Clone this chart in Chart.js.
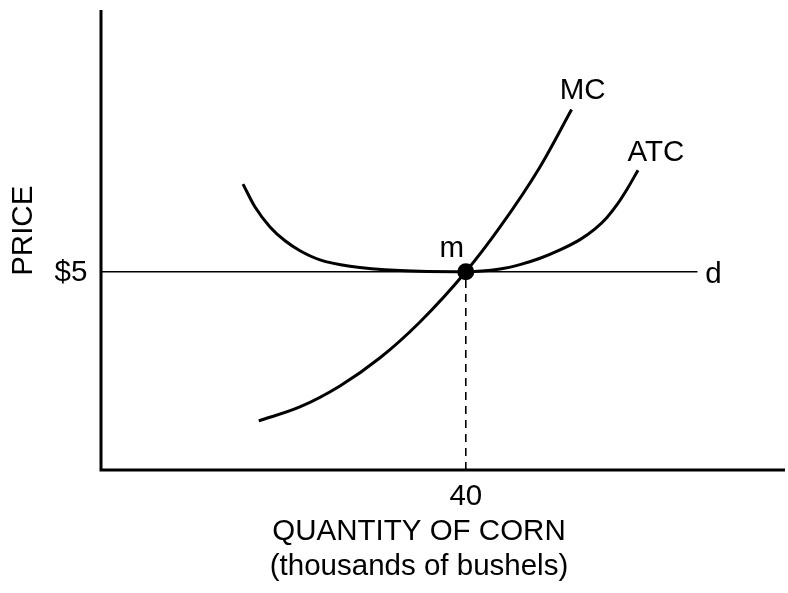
<!DOCTYPE html>
<html>
<head>
<meta charset="utf-8">
<script src="https://cdn.jsdelivr.net/npm/chart.js@4"></script>
<style>
  html, body { margin: 0; padding: 0; background: #fff; }
  #wrap { width: 788px; height: 593px; }
</style>
</head>
<body>
<div id="wrap"><canvas id="c" width="788" height="593"></canvas></div>
<script>
// ---- Data (quantity in thousands of bushels, price in $) ----
const mcQuantity  = [17.3, 21.8, 26.2, 30.6, 35.0, 40.0, 43.7, 48.1, 51.6];
const mcPrice     = [1.24, 1.59, 2.12, 2.83, 3.74, 5.00, 6.11, 7.63, 9.09];
const atcQuantity = [15.57, 16.89, 18.53, 20.18, 21.82, 24.01, 27.30, 32.79, 40.0,
                     43.75, 45.94, 48.14, 50.33, 52.52, 54.17, 55.48, 56.58, 57.68, 58.88];
const atcPrice    = [7.21, 6.63, 6.13, 5.78, 5.53, 5.30, 5.14, 5.03, 5.00,
                     5.07, 5.18, 5.34, 5.55, 5.81, 6.08, 6.37, 6.69, 7.08, 7.56];
const demandQuantity = [0, 65.4];
const marketPrice = 5;
const equilibriumQuantity = 40;
const xTickLabel = "40";
const yTickLabel = "$5";
const xAxisTitle = "QUANTITY OF CORN";
const xAxisSubtitle = "(thousands of bushels)";
const yAxisTitle = "PRICE";
const curveLabels = ["MC", "ATC", "d", "m"];

const toPts = (xs, ys) => xs.map((x, i) => ({ x: x, y: ys[i] }));
const FONT = '"Liberation Sans", Arial, Helvetica, sans-serif';

const annotate = {
  id: 'annotate',
  afterDraw(chart) {
    const { ctx, chartArea: a, scales: { x, y } } = chart;
    ctx.save();
    // axes
    ctx.strokeStyle = '#000';
    ctx.lineWidth = 3;
    ctx.beginPath();
    ctx.moveTo(a.left, a.top);
    ctx.lineTo(a.left, a.bottom);
    ctx.lineTo(a.right, a.bottom);
    ctx.stroke();

    ctx.fillStyle = '#000';
    ctx.font = '29.5px ' + FONT;
    ctx.textAlign = 'center';
    ctx.textBaseline = 'middle';
    const px = v => x.getPixelForValue(v);
    const py = v => y.getPixelForValue(v);
    // tick labels
    ctx.fillText(xTickLabel, px(equilibriumQuantity), a.bottom + 27);
    ctx.fillText(yTickLabel, a.left - 30, py(marketPrice) + 1);
    // axis titles
    const cx = 419;
    ctx.fillText(xAxisTitle, cx, a.bottom + 62);
    ctx.fillText(xAxisSubtitle, cx, a.bottom + 97);
    ctx.save();
    ctx.translate(24, py(marketPrice) - 41);
    ctx.rotate(-Math.PI / 2);
    ctx.fillText(yAxisTitle, 0, 0);
    ctx.restore();
    // curve labels
    const mcEnd = mcQuantity.length - 1, atcEnd = atcQuantity.length - 1;
    ctx.fillText(curveLabels[0], px(mcQuantity[mcEnd]) + 11, py(mcPrice[mcEnd]) - 19);
    ctx.fillText(curveLabels[1], px(atcQuantity[atcEnd]) + 18, py(atcPrice[atcEnd]) - 17);
    ctx.fillText(curveLabels[2], px(demandQuantity[1]) + 16, py(marketPrice) + 3);
    ctx.fillText(curveLabels[3], px(equilibriumQuantity) - 14, py(marketPrice) - 23);
    ctx.restore();
  }
};

new Chart(document.getElementById('c'), {
  type: 'scatter',
  data: {
    datasets: [
      { data: toPts(demandQuantity, [marketPrice, marketPrice]), showLine: true,
        borderColor: '#000', borderWidth: 1.6, pointRadius: 0, tension: 0 },
      { data: toPts([equilibriumQuantity, equilibriumQuantity], [0, marketPrice]), showLine: true,
        borderColor: '#000', borderWidth: 1.6, borderDash: [8, 6], pointRadius: 0, tension: 0 },
      { data: toPts(mcQuantity, mcPrice), showLine: true, borderColor: '#000', borderWidth: 3,
        pointRadius: 0, cubicInterpolationMode: 'monotone' },
      { data: toPts(atcQuantity, atcPrice), showLine: true, borderColor: '#000', borderWidth: 3,
        pointRadius: 0, cubicInterpolationMode: 'monotone' },
      { data: [{ x: equilibriumQuantity, y: marketPrice }], showLine: false,
        pointRadius: 8.5, pointBackgroundColor: '#000', pointBorderColor: '#000', pointBorderWidth: 0 }
    ]
  },
  options: {
    responsive: false,
    animation: false,
    events: [],
    layout: { autoPadding: false, padding: { left: 101, right: 3, top: 10, bottom: 123 } },
    plugins: { legend: { display: false }, tooltip: { enabled: false }, title: { display: false } },
    scales: {
      x: { type: 'linear', min: 0, max: 75, display: false },
      y: { type: 'linear', min: 0, max: 11.6, display: false }
    }
  },
  plugins: [annotate]
});
</script>
</body>
</html>
